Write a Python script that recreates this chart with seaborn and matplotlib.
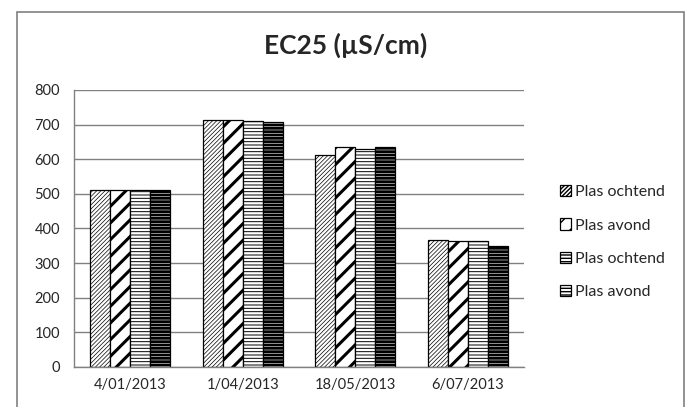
import numpy as np
import pandas as pd
import matplotlib
matplotlib.use('Agg')
import matplotlib.pyplot as plt
import seaborn as sns
from matplotlib.patches import Rectangle, Patch

# data
dates = ['4/01/2013', '1/04/2013', '18/05/2013', '6/07/2013']
series_labels = ['Plas ochtend', 'Plas avond', 'Plas ochtend', 'Plas avond']
plas_ochtend_1 = [512, 712, 611, 368]
plas_avond_1 = [512, 712, 636, 364]
plas_ochtend_2 = [512, 711, 629, 364]
plas_avond_2 = [511, 707, 636, 349]

y_ticks = [0, 100, 200, 300, 400, 500, 600, 700, 800]

sns.set_style('white')
plt.rcParams['font.family'] = ['Lato', 'DejaVu Sans']

keys = ['s1', 's2', 's3', 's4']
rows = []
for key, vals in zip(keys, [plas_ochtend_1, plas_avond_1, plas_ochtend_2, plas_avond_2]):
    for d, v in zip(dates, vals):
        rows.append({'date': d, 'series': key, 'ec25': v})
df = pd.DataFrame(rows)

fig = plt.figure(figsize=(6.91, 4.07), dpi=100)
ax = fig.add_axes([0.1071, 0.0983, 0.6512, 0.6806])

sns.barplot(data=df, x='date', y='ec25', hue='series', order=dates, hue_order=keys,
            width=0.71, palette=['white'] * 4, edgecolor='black',
            linewidth=0.9, errorbar=None, legend=False, ax=ax)

hatches = ['////////', '//', '-----', '-----']
hatch_lw = [0.5, 2.2, 0.7, 2.0]
for i, container in enumerate(ax.containers):
    for bar in container:
        bar.set_hatch(hatches[i])
        try:
            bar.set_hatch_linewidth(hatch_lw[i])
        except AttributeError:
            pass

ax.set_xlim(-0.5, 3.5)
ax.set_ylim(0, 800)
ax.set_yticks(y_ticks)
ax.set_xticks(range(len(dates)))
ax.set_xticklabels(dates)
ax.set_xticks(np.arange(-0.5, 4.0, 1.0), minor=True)
ax.tick_params(axis='x', which='major', length=0, pad=8, labelsize=10.5)
ax.tick_params(axis='x', which='minor', length=5, width=1, color='#808080', direction='out')
ax.tick_params(axis='y', length=5, width=1, color='#808080', direction='out', labelsize=10.5, pad=5)
ax.set_xlabel('')
ax.set_ylabel('')
ax.yaxis.grid(True, color='#808080', linewidth=1)
ax.set_axisbelow(True)
for side in ['top', 'right']:
    ax.spines[side].set_visible(False)
for side in ['left', 'bottom']:
    ax.spines[side].set_color('#808080')
    ax.spines[side].set_linewidth(1)

fig.text(0.5, 0.888, 'EC25 (µS/cm)', ha='center', va='center', fontsize=19, fontweight='bold')

handles = []
for i in range(4):
    h = Patch(facecolor='white', edgecolor='black', hatch=hatches[i], linewidth=0.9)
    try:
        h.set_hatch_linewidth(hatch_lw[i])
    except AttributeError:
        pass
    handles.append(h)
fig.legend(handles, series_labels, loc='center left', bbox_to_anchor=(0.79, 0.405),
           frameon=False, fontsize=11.5, handlelength=0.7, handleheight=0.7,
           handletextpad=0.25, labelspacing=1.2)

fig.patches.append(Rectangle((17 / 691, -0.05), 667 / 691, 0.05 + 395 / 407,
                             transform=fig.transFigure, fill=False,
                             edgecolor='#808080', linewidth=1.2))

fig.savefig('out.png', dpi=100)
